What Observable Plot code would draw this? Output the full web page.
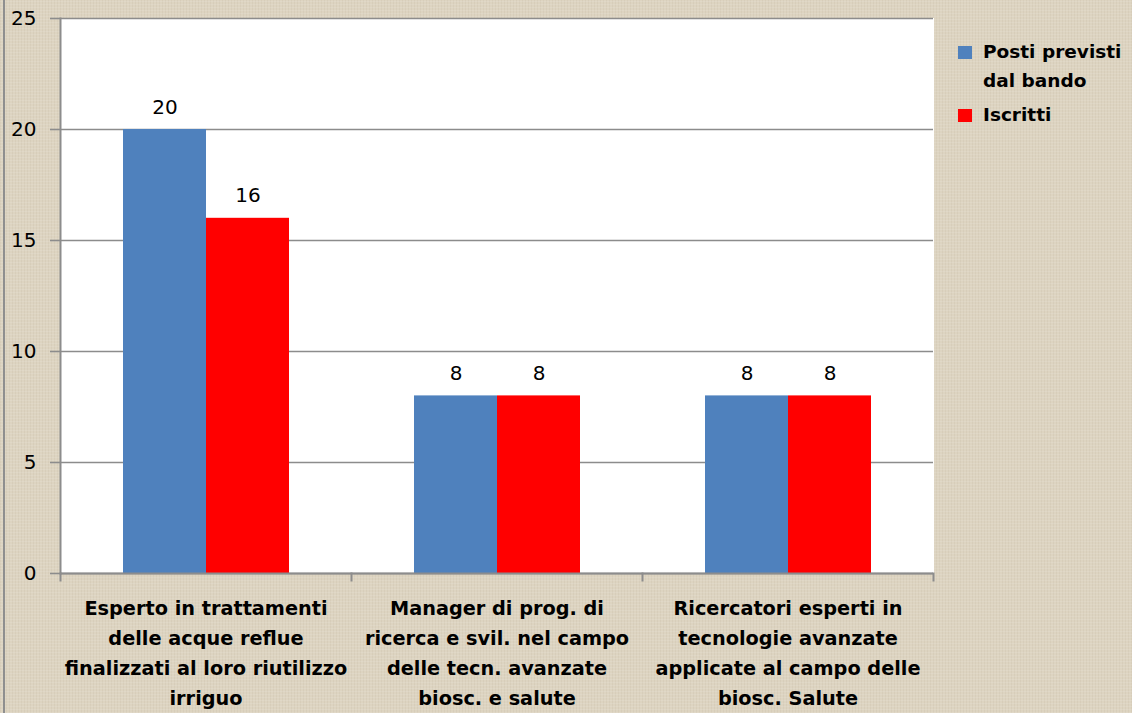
<!DOCTYPE html>
<html>
<head>
<meta charset="utf-8">
<script src="https://cdn.jsdelivr.net/npm/d3@7"></script>
<script src="https://cdn.jsdelivr.net/npm/@observablehq/plot@0.6"></script>
<style>
html, body { margin: 0; padding: 0; }
body {
  width: 1132px; height: 713px; overflow: hidden;
  background-color: #ddd4c1;
  background-image:
    repeating-linear-gradient(0deg, rgba(255,255,255,0.10) 0px, rgba(255,255,255,0.10) 1px, rgba(0,0,0,0) 1px, rgba(0,0,0,0) 3px),
    repeating-linear-gradient(90deg, rgba(120,100,70,0.06) 0px, rgba(120,100,70,0.06) 1px, rgba(0,0,0,0) 1px, rgba(0,0,0,0) 3px);
  font-family: "DejaVu Sans", sans-serif;
}
#wrap { position: relative; width: 1132px; height: 713px; }
#wrap svg { position: absolute; left: 0; top: 0; }
#edge { position: absolute; left: 3px; top: 0; width: 2px; height: 713px; background: #8f8f8f; }
.lg { position: absolute; left: 958px; font: bold 18.5px "DejaVu Sans", sans-serif; line-height: 29px; color: #000; white-space: pre-line; }
.lg .sw { position: absolute; left: 0; top: 9px; width: 14px; height: 13px; }
.lg .tx { margin-left: 25px; }
</style>
</head>
<body>
<div id="wrap"><div id="edge"></div></div>
<script>
const categories = [
  "Esperto in trattamenti\ndelle acque reflue\nfinalizzati al loro riutilizzo\nirriguo",
  "Manager di prog. di\nricerca e svil. nel campo\ndelle tecn. avanzate\nbiosc. e salute",
  "Ricercatori esperti in\ntecnologie avanzate\napplicate al campo delle\nbiosc. Salute"
];
const series = ["Posti previsti\ndal bando", "Iscritti"];
const postiPrevisti = [20, 8, 8];
const iscritti = [16, 8, 8];
const seriesColors = ["#4f81bd", "#ff0000"];
const yTicks = [0, 5, 10, 15, 20, 25];

const data = categories.flatMap((c, i) => [
  {cat: c, series: series[0], value: postiPrevisti[i]},
  {cat: c, series: series[1], value: iscritti[i]}
]);

const W = 1132, H = 713, mL = 59, mR = 198, mT = 18, mB = 140;
const plotH = H - mT - mB;
const grid = "#8c8c8c";

const chart = Plot.plot({
  width: W, height: H,
  marginLeft: mL, marginRight: mR, marginTop: mT, marginBottom: mB,
  style: {background: "transparent", fontFamily: "DejaVu Sans", color: "#000"},
  fx: {domain: categories, padding: 0, label: null},
  x: {domain: series, paddingInner: 0, paddingOuter: 0.75, axis: null},
  y: {domain: [0, 25], label: null},
  color: {domain: series, range: seriesColors},
  marks: [
    Plot.frame({fill: "white", stroke: "white", strokeWidth: 1}),
    Plot.gridY(yTicks, {stroke: grid, strokeOpacity: 1, strokeWidth: 1.6}),
    Plot.barY(data, {fx: "cat", x: "series", y: "value", fill: "series"}),
    Plot.text(data, {fx: "cat", x: "series", y: "value", text: d => String(d.value),
      lineAnchor: "bottom", dy: -16, fontSize: 20, fill: "#000"}),
    Plot.frame({anchor: "left", facetAnchor: "left", stroke: grid, strokeWidth: 2}),
    Plot.frame({anchor: "left", insetTop: plotH, insetBottom: -7, stroke: grid, strokeWidth: 2}),
    Plot.frame({anchor: "right", facetAnchor: "right", insetTop: plotH, insetBottom: -7, stroke: grid, strokeWidth: 2}),
    Plot.ruleY([0], {stroke: grid, strokeWidth: 2}),
    Plot.axisY(yTicks, {anchor: "left", tickSize: 10, tickPadding: 14, fontSize: 20,
      stroke: grid, strokeWidth: 1.6, fill: "#000", label: null}),
    Plot.axisFx({anchor: "bottom", tickSize: 0, tickPadding: 20, fontSize: 19.3,
      fontWeight: "bold", lineHeight: 1.554, fill: "#000", label: null})
  ]
});

const wrap = document.getElementById("wrap");
wrap.appendChild(chart);

const legendTops = [37, 100];
series.forEach((s, i) => {
  const item = document.createElement("div");
  item.className = "lg";
  item.style.top = legendTops[i] + "px";
  const sw = document.createElement("div");
  sw.className = "sw";
  sw.style.background = seriesColors[i];
  const tx = document.createElement("div");
  tx.className = "tx";
  tx.textContent = s;
  item.appendChild(sw);
  item.appendChild(tx);
  wrap.appendChild(item);
});
</script>
</body>
</html>
